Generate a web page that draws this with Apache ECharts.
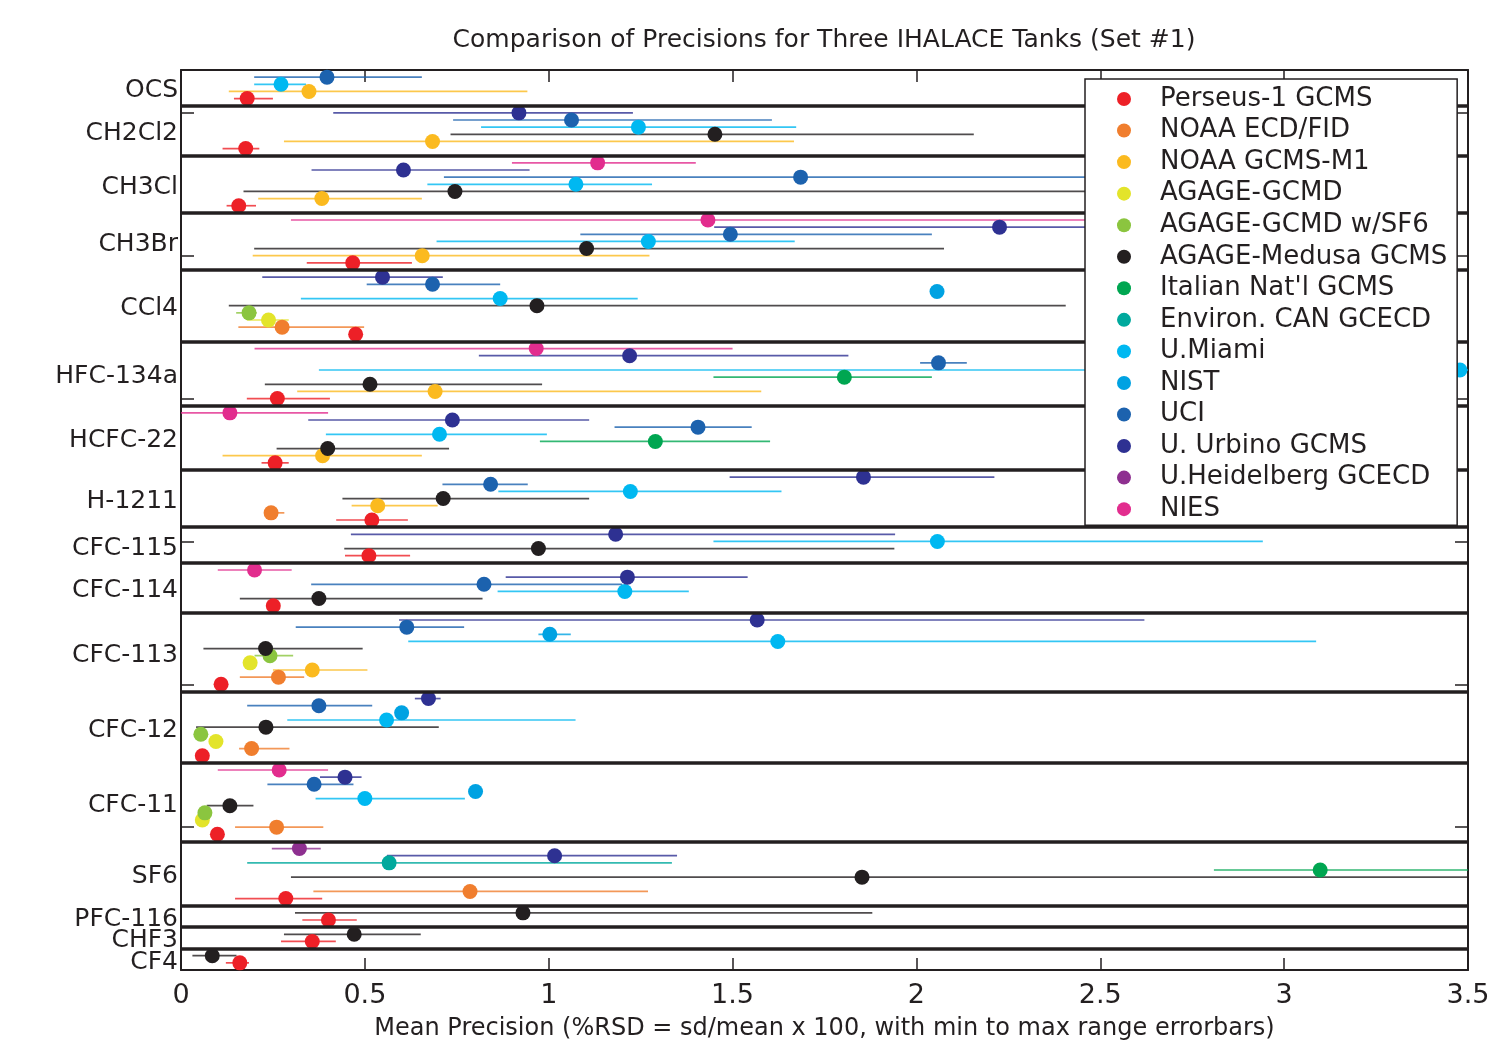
<!DOCTYPE html>
<html><head><meta charset="utf-8">
<script src="https://cdn.jsdelivr.net/npm/echarts@6/dist/echarts.min.js"></script>
<style>html,body{margin:0;padding:0;background:#fff}#c{width:1493px;height:1041px}</style>
</head><body><div id="c"></div>
<script>
// ---------- DATA ----------
const compounds = ['OCS','CH2Cl2','CH3Cl','CH3Br','CCl4','HFC-134a','HCFC-22','H-1211','CFC-115','CFC-114','CFC-113','CFC-12','CFC-11','SF6','PFC-116','CHF3','CF4'];
// row boundaries of the compound groups (top of axis, separators, bottom of axis)
const groupBounds = [126,121,114,106,98,88,79,70,62,57,50,39,29,18,9,6,3,0];
const yTickRows = [0,20,40,60,80,100,120];
const xTickValues = [0,0.5,1,1.5,2,2.5,3,3.5];
const labs = ['Perseus-1 GCMS','NOAA ECD/FID','NOAA GCMS-M1','AGAGE-GCMD','AGAGE-GCMD w/SF6','AGAGE-Medusa GCMS',"Italian Nat'l GCMS",'Environ. CAN GCECD','U.Miami','NIST','UCI','U. Urbino GCMS','U.Heidelberg GCECD','NIES'];

// each entry: [row, mean precision, min, max]
const perseus = [[122,0.180,0.144,0.250],[115,0.176,0.113,0.213],[107,0.157,0.124,0.204],[99,0.467,0.342,0.628],[89,0.475,0.475,0.475],[80,0.262,0.179,0.405],[71,0.256,0.219,0.293],[63,0.519,0.422,0.617],[58,0.511,0.446,0.623],[51,0.251,0.251,0.251],[40,0.109,0.109,0.109],[30,0.058,0.058,0.058],[19,0.099,0.099,0.099],[10,0.285,0.147,0.384],[7,0.401,0.330,0.478],[4,0.357,0.272,0.421],[1,0.160,0.122,0.185]];
const noaaEcd = [[90,0.275,0.156,0.498],[64,0.245,0.235,0.281],[41,0.265,0.160,0.335],[31,0.192,0.158,0.295],[20,0.260,0.147,0.387],[11,0.786,0.360,1.270]];
const noaaM1 = [[123,0.348,0.130,0.942],[116,0.684,0.280,1.667],[108,0.383,0.210,0.655],[100,0.656,0.195,1.274],[81,0.691,0.316,1.578],[72,0.385,0.113,0.655],[65,0.535,0.464,0.698],[42,0.357,0.250,0.507]];
const agageGcmd = [[91,0.238,0.179,0.293],[43,0.188,0.188,0.188],[32,0.095,0.095,0.095],[21,0.058,0.058,0.058]];
const agageSf6 = [[92,0.185,0.150,0.206],[44,0.242,0.200,0.305],[33,0.054,0.054,0.054],[22,0.065,0.065,0.065]];
const medusa = [[117,1.452,0.733,2.156],[109,0.745,0.170,2.900],[101,1.103,0.199,2.075],[93,0.968,0.130,2.406],[82,0.514,0.228,0.982],[73,0.399,0.260,0.729],[66,0.713,0.439,1.110],[59,0.972,0.444,1.940],[52,0.375,0.160,0.820],[45,0.230,0.061,0.494],[34,0.231,0.041,0.701],[23,0.133,0.070,0.197],[13,1.852,0.299,3.600],[8,0.930,0.310,1.880],[5,0.471,0.280,0.652],[2,0.085,0.031,0.151]];
const italian = [[83,1.804,1.448,2.042],[74,1.290,0.976,1.602],[14,3.098,2.809,3.600]];
const envCan = [[15,0.566,0.180,1.335]];
const miami = [[124,0.272,0.199,0.340],[118,1.244,0.816,1.673],[110,1.074,0.670,1.281],[102,1.271,0.695,1.669],[94,0.868,0.326,1.242],[84,3.478,0.375,3.600],[75,0.703,0.394,0.995],[67,1.222,0.863,1.633],[60,2.057,1.448,2.942],[53,1.207,0.861,1.381],[46,1.623,0.618,3.087],[35,0.559,0.289,1.073],[24,0.500,0.366,0.772]];
const nist = [[95,2.056,2.056,2.056],[47,1.003,0.972,1.060],[36,0.600,0.600,0.600],[25,0.801,0.801,0.801]];
const uci = [[125,0.397,0.199,0.655],[119,1.062,0.740,1.607],[111,1.685,0.715,2.800],[103,1.494,1.086,2.042],[96,0.684,0.505,0.868],[85,2.060,2.010,2.137],[76,1.406,1.179,1.552],[68,0.842,0.711,0.943],[54,0.824,0.354,1.200],[48,0.614,0.312,0.770],[37,0.375,0.180,0.520],[26,0.362,0.235,0.469]];
const urbino = [[120,0.919,0.414,1.229],[112,0.605,0.355,0.948],[104,2.226,1.450,3.000],[97,0.548,0.221,0.712],[86,1.220,0.810,1.815],[77,0.738,0.346,1.110],[69,1.856,1.492,2.212],[61,1.182,0.462,1.942],[55,1.214,0.883,1.541],[49,1.567,0.593,2.620],[38,0.673,0.636,0.706],[27,0.446,0.378,0.491],[16,1.016,0.560,1.349]];
const heidelberg = [[17,0.322,0.247,0.380]];
const nies = [[113,1.133,0.900,1.400],[105,1.433,0.299,2.700],[87,0.966,0.200,1.500],[78,0.133,0.000,0.400],[56,0.200,0.100,0.301],[28,0.267,0.100,0.400]];

const labData = [perseus,noaaEcd,noaaM1,agageGcmd,agageSf6,medusa,italian,envCan,miami,nist,uci,urbino,heidelberg,nies];
const labColors = ['#ED2027','#F07E2E','#FBBA1F','#E3E42A','#8BC53F','#231F20','#00A651','#00A99D','#00B8F1','#00A2E2','#1C62AE','#2E3192','#8E3090','#E22D8E'];

// ---------- CHART ----------
const FONT = 'DejaVu Sans, Liberation Sans, Arial, sans-serif';
const INK = '#231F20';
const groupCenters = compounds.map((c,i)=> (groupBounds[i]+groupBounds[i+1])/2);
const evenCenters = groupCenters.filter((v,i)=> i%2===0);
const oddCenters = groupCenters.filter((v,i)=> i%2===1);
const separators = groupBounds.slice(1, groupBounds.length-1);
const xMax = xTickValues[xTickValues.length-1];

function nameAt(v){
  for (let i=0;i<groupCenters.length;i++) if (Math.abs(groupCenters[i]-v)<0.01) return '{n|' + compounds[i] + '}';
  return '';
}

const series = [];
labData.forEach((arr, i) => {
  const col = labColors[i];
  series.push({
    type:'custom', name: labs[i]+' range', coordinateSystem:'cartesian2d',
    clip:true, z:2, silent:true,
    encode:{x:[1,2,3], y:0},
    data: arr,
    renderItem: function(params, api){
      const y = api.value(0), lo = api.value(2), hi = Math.min(api.value(3), xMax);
      if (!(hi > lo)) return null;
      const p1 = api.coord([lo, y]), p2 = api.coord([hi, y]);
      return {type:'line', shape:{x1:p1[0],y1:p1[1],x2:p2[0],y2:p2[1]},
        style:{stroke:col, lineWidth:1.7, opacity:0.8}};
    }
  });
});
labData.forEach((arr, i) => {
  series.push({
    type:'scatter', name: labs[i], symbol:'circle', symbolSize:15, z:3+i*0.01, clip:true, silent:true,
    itemStyle:{color:labColors[i], opacity:1},
    data: arr.map(d => [d[1], d[0]])
  });
});
series.push({
  type:'line', name:'separators', data:[], z:6, silent:true,
  markLine:{silent:true, symbol:['none','none'], animation:false,
    label:{show:false},
    lineStyle:{color:INK, width:3.5, type:'solid'},
    emphasis:{disabled:true},
    data: separators.map(r => ({yAxis:r}))}
});

const axisLineStyle = {color:INK, width:2};
const labelStyle = {formatter:(v)=>nameAt(v), showMinLabel:true, showMaxLabel:true, hideOverlap:false,
  fontFamily:FONT, fontSize:25, color:INK, margin:3,
  rich:{n:{fontFamily:FONT, fontSize:25, color:INK, lineHeight:13, padding:[6,0,0,0]}}};
const option = {
  animation:false,
  backgroundColor:'#fff',
  title:{text:'Comparison of Precisions for Three IHALACE Tanks (Set #1)', left:824, top:28, textAlign:'center', padding:0,
    textStyle:{fontFamily:FONT, fontSize:25, fontWeight:'normal', color:INK}},
  grid:{left:181, right:25, top:70, bottom:71, containLabel:false, outerBoundsMode:'none'},
  legend:{orient:'vertical', left:1085, top:79, data:labs, icon:'circle', itemWidth:14, itemHeight:14, itemGap:3.55,
    padding:[6,10,2,32], backgroundColor:'#fff', borderColor:INK, borderWidth:1.5, selectedMode:false, z:20,
    textStyle:{fontFamily:FONT, fontSize:26, color:INK, lineHeight:26, padding:[2,0,0,24]}},
  xAxis:[
    {type:'value', min:0, max:xMax, interval:0.5, position:'bottom',
      name:'Mean Precision (%RSD = sd/mean x 100, with min to max range errorbars)', nameLocation:'middle', nameGap:47,
      nameTextStyle:{fontFamily:FONT, fontSize:24, color:INK},
      axisLine:{show:true, lineStyle:axisLineStyle}, axisTick:{show:true, inside:true, length:12, lineStyle:{color:INK, width:1.5}},
      axisLabel:{fontFamily:FONT, fontSize:27, color:INK, margin:12}, splitLine:{show:false}},
    {type:'value', min:0, max:xMax, interval:0.5, position:'top',
      axisLine:{show:true, onZero:false, lineStyle:axisLineStyle}, axisTick:{show:true, inside:true, length:12, lineStyle:{color:INK, width:1.5}},
      axisLabel:{show:false}, splitLine:{show:false}}
  ],
  yAxis:[
    {type:'value', min:0, max:126, position:'left',
      axisLine:{show:true, onZero:false, lineStyle:axisLineStyle},
      axisTick:{show:true, inside:true, length:13, customValues:yTickRows, lineStyle:{color:INK, width:1.5}},
      axisLabel:Object.assign({customValues:evenCenters}, labelStyle),
      splitLine:{show:false}},
    {type:'value', min:0, max:126, position:'right',
      axisLine:{show:true, onZero:false, lineStyle:axisLineStyle},
      axisTick:{show:true, inside:true, length:13, customValues:yTickRows, lineStyle:{color:INK, width:1.5}},
      axisLabel:{show:false}, splitLine:{show:false}},
    {type:'value', min:0, max:126, position:'left', offset:0,
      axisLine:{show:false}, axisTick:{show:false},
      axisLabel:Object.assign({customValues:oddCenters}, labelStyle),
      splitLine:{show:false}}
  ],
  series: series
};
const chart = echarts.init(document.getElementById('c'), null, {renderer:'canvas'});
chart.setOption(option);
</script>
</body></html>
